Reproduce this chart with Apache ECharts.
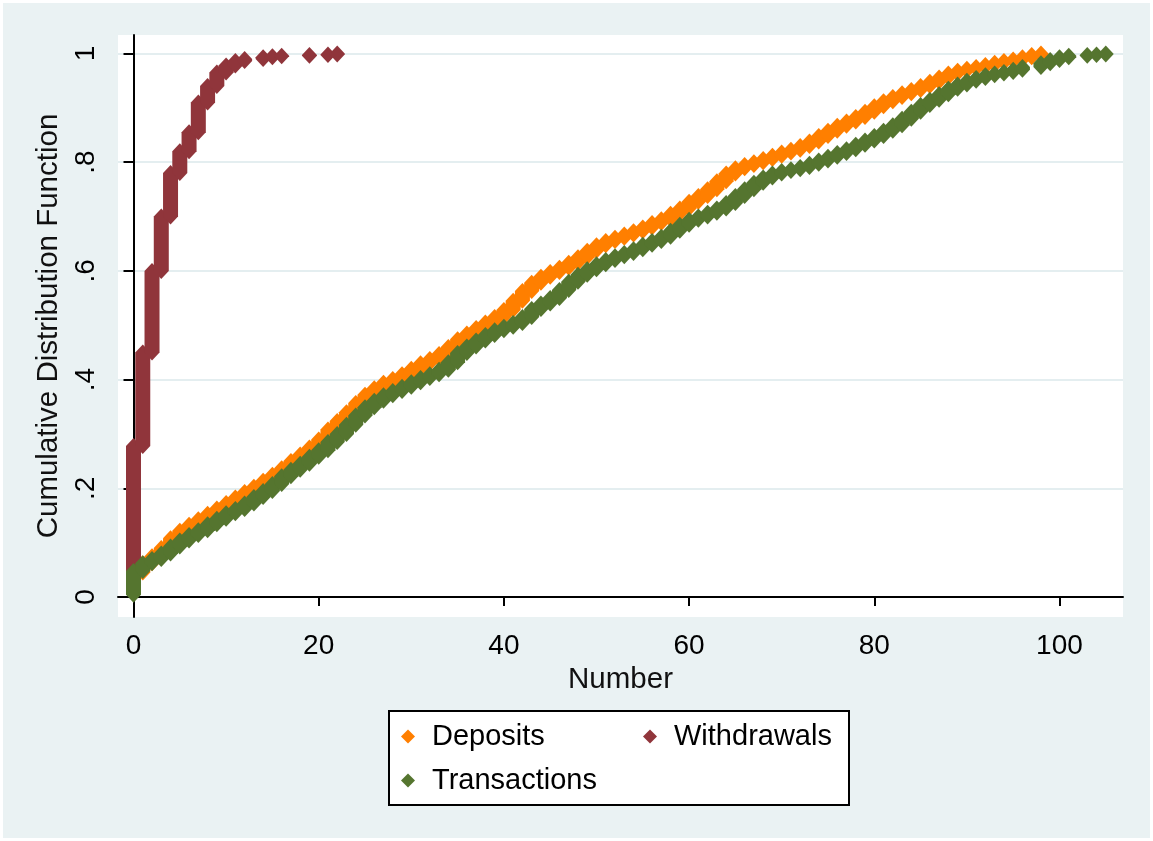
<!DOCTYPE html>
<html>
<head>
<meta charset="utf-8">
<script src="https://cdn.jsdelivr.net/npm/echarts@6/dist/echarts.min.js"></script>
<style>
html, body { margin: 0; padding: 0; background: #fff; }
#chart { width: 1153px; height: 841px; }
</style>
</head>
<body>
<div id="chart"></div>
<script>
// tick labels
var xTicks = [0, 20, 40, 60, 80, 100];
var yTicks = [0, 0.2, 0.4, 0.6, 0.8, 1];
var yTickLabels = ['0', '.2', '.4', '.6', '.8', '1'];

// cumulative share reached at each number
var depositsX = [0, 1, 2, 3, 4, 5, 6, 7, 8, 9, 10, 11, 12, 13, 14, 15, 16, 17, 18, 19,
    20, 21, 22, 23, 24, 25, 26, 27, 28, 29, 30, 31, 32, 33, 34, 35, 36, 37, 38, 39,
    40, 41, 42, 43, 44, 45, 46, 47, 48, 49, 50, 51, 52, 53, 54, 55, 56, 57, 58, 59,
    60, 61, 62, 63, 64, 65, 66, 67, 68, 69, 70, 71, 72, 73, 74, 75, 76, 77, 78, 79,
    80, 81, 82, 83, 84, 85, 86, 87, 88, 89, 90, 91, 92, 93, 94, 95, 96, 97, 98];
var depositsCdf = [0.045, 0.062, 0.075, 0.09, 0.108, 0.122, 0.133, 0.143, 0.153, 0.163,
    0.173, 0.183, 0.193, 0.203, 0.214, 0.225, 0.237, 0.25, 0.262, 0.275,
    0.29, 0.308, 0.324, 0.34, 0.357, 0.372, 0.384, 0.394, 0.401, 0.41,
    0.42, 0.43, 0.438, 0.447, 0.46, 0.474, 0.485, 0.495, 0.505, 0.515,
    0.528, 0.545, 0.563, 0.578, 0.589, 0.598, 0.606, 0.615, 0.625, 0.637,
    0.647, 0.655, 0.661, 0.667, 0.673, 0.68, 0.688, 0.695, 0.705, 0.715,
    0.727, 0.738, 0.75, 0.765, 0.779, 0.789, 0.795, 0.8, 0.806, 0.812,
    0.818, 0.823, 0.83, 0.838, 0.848, 0.858, 0.867, 0.875, 0.883, 0.893,
    0.903, 0.912, 0.92, 0.927, 0.933, 0.94, 0.948, 0.956, 0.963, 0.968,
    0.972, 0.975, 0.979, 0.983, 0.986, 0.989, 0.993, 0.997, 1];
var depositsStart = 0.03;

var withdrawalsX = [0, 1, 2, 3, 4, 5, 6, 7, 8, 9, 10, 11, 12, 14, 15, 16, 19, 21, 22];
var withdrawalsCdf = [0.278, 0.45, 0.6, 0.7, 0.78, 0.82, 0.855, 0.91, 0.94, 0.965,
    0.978, 0.986, 0.99, 0.993, 0.995, 0.996, 0.997, 0.998, 1];
var withdrawalsStart = 0.03;

var transactionsX = [0, 1, 2, 3, 4, 5, 6, 7, 8, 9, 10, 11, 12, 13, 14, 15, 16, 17, 18, 19,
    20, 21, 22, 23, 24, 25, 26, 27, 28, 29, 30, 31, 32, 33, 34, 35, 36, 37, 38, 39,
    40, 41, 42, 43, 44, 45, 46, 47, 48, 49, 50, 51, 52, 53, 54, 55, 56, 57, 58, 59,
    60, 61, 62, 63, 64, 65, 66, 67, 68, 69, 70, 71, 72, 73, 74, 75, 76, 77, 78, 79,
    80, 81, 82, 83, 84, 85, 86, 87, 88, 89, 90, 91, 92, 93, 94, 95, 96,
    98, 99, 100, 101, 103, 104, 105];
var transactionsCdf = [0.048, 0.062, 0.07, 0.08, 0.093, 0.104, 0.114, 0.123, 0.134, 0.144,
    0.154, 0.162, 0.172, 0.184, 0.195, 0.208, 0.222, 0.234, 0.245, 0.258,
    0.27, 0.285, 0.3, 0.317, 0.334, 0.349, 0.361, 0.371, 0.379, 0.387,
    0.395, 0.403, 0.41, 0.418, 0.432, 0.449, 0.461, 0.472, 0.482, 0.491,
    0.497, 0.504, 0.515, 0.53, 0.54, 0.55, 0.565, 0.58, 0.593, 0.603,
    0.612, 0.62, 0.627, 0.633, 0.64, 0.648, 0.655, 0.663, 0.674, 0.685,
    0.694, 0.7, 0.707, 0.715, 0.725, 0.738, 0.75, 0.762, 0.772, 0.779,
    0.784, 0.787, 0.791, 0.797, 0.803, 0.81, 0.817, 0.824, 0.832, 0.84,
    0.848, 0.858, 0.868, 0.88, 0.893, 0.905, 0.915, 0.925, 0.935, 0.943,
    0.95, 0.955, 0.96, 0.963, 0.966, 0.97, 0.975,
    0.982, 0.988, 0.993, 0.996, 0.997, 0.998, 1];
var transactionsStart = 0.004;

var font = "'Liberation Sans', Arial, sans-serif";

// each number gets a vertical stack of diamonds from the previous share up to its own
function stacks(xs, cdf, start) {
    var out = [];
    for (var i = 0; i < xs.length; i++) {
        out.push([xs[i], i === 0 ? start : cdf[i - 1], cdf[i]]);
    }
    return out;
}

function renderStack(params, api) {
    var hi = api.coord([api.value(0), api.value(2)]);
    var lo = api.coord([api.value(0), api.value(1)]);
    var w = 7.5, h = 8;
    return {
        type: 'polygon',
        shape: {
            points: [
                [hi[0], hi[1] - h], [hi[0] + w, hi[1]], [hi[0] + w, lo[1]],
                [hi[0], lo[1] + h], [hi[0] - w, lo[1]], [hi[0] - w, hi[1]]
            ]
        },
        style: { fill: api.visual('color') }
    };
}

var myChart = echarts.init(document.getElementById('chart'));

var option = {
    backgroundColor: '#fff',
    animation: false,
    graphic: [
        { type: 'rect', z: -10, shape: { x: 3, y: 3, width: 1147, height: 835 },
          style: { fill: '#eaf2f3' } },
        { type: 'rect', z: 1, shape: { x: 389, y: 711, width: 460, height: 94 },
          style: { fill: '#fff', stroke: '#000', lineWidth: 2 } }
    ],
    grid: {
        left: 118, right: 30, top: 35, bottom: 224,
        show: true, backgroundColor: '#fff', borderWidth: 0
    },
    legend: {
        left: 401, top: 722, width: 480,
        padding: 0,
        itemWidth: 14, itemHeight: 14, itemGap: 15,
        textStyle: {
            fontFamily: font, fontSize: 29, color: '#000',
            width: 196, lineHeight: 18, padding: [0, 0, 0, 12]
        },
        data: [
            { name: 'Deposits', icon: 'diamond' },
            { name: 'Withdrawals', icon: 'diamond' },
            { name: 'Transactions', icon: 'diamond' }
        ]
    },
    xAxis: {
        type: 'value',
        min: -1.674, max: 106.86,
        name: 'Number',
        nameLocation: 'middle',
        nameGap: 44,
        nameTextStyle: { fontFamily: font, fontSize: 29.5, color: '#111' },
        axisLine: { show: true, lineStyle: { color: '#000', width: 2 } },
        axisTick: { show: true, length: 9, lineStyle: { color: '#000', width: 2 }, customValues: xTicks },
        axisLabel: { fontFamily: font, fontSize: 28, color: '#000', margin: 15, customValues: xTicks },
        splitLine: { show: false }
    },
    yAxis: {
        type: 'value',
        min: -0.0368, max: 1.034,
        name: 'Cumulative Distribution Function',
        nameLocation: 'middle',
        nameGap: 54,
        nameTextStyle: { fontFamily: font, fontSize: 29.5, color: '#111' },
        axisLine: { show: true, lineStyle: { color: '#000', width: 2 } },
        axisTick: { show: true, length: 10, lineStyle: { color: '#000', width: 2 }, customValues: yTicks },
        axisLabel: {
            fontFamily: font, fontSize: 28, color: '#000', margin: 18, rotate: 90,
            customValues: yTicks,
            formatter: function (v) { return yTickLabels[yTicks.indexOf(Math.round(v * 10) / 10)]; }
        },
        splitLine: { show: true, lineStyle: { color: '#e4eef0', width: 2 } }
    },
    series: [
        {
            name: 'Deposits', type: 'custom', renderItem: renderStack,
            itemStyle: { color: '#ff7f00' },
            encode: { x: 0, y: [1, 2] },
            data: stacks(depositsX, depositsCdf, depositsStart)
        },
        {
            name: 'Withdrawals', type: 'custom', renderItem: renderStack,
            itemStyle: { color: '#90353b' },
            encode: { x: 0, y: [1, 2] },
            data: stacks(withdrawalsX, withdrawalsCdf, withdrawalsStart)
        },
        {
            name: 'Transactions', type: 'custom', renderItem: renderStack,
            itemStyle: { color: '#55752f' },
            encode: { x: 0, y: [1, 2] },
            data: stacks(transactionsX, transactionsCdf, transactionsStart)
        }
    ]
};

myChart.setOption(option);
</script>
</body>
</html>
